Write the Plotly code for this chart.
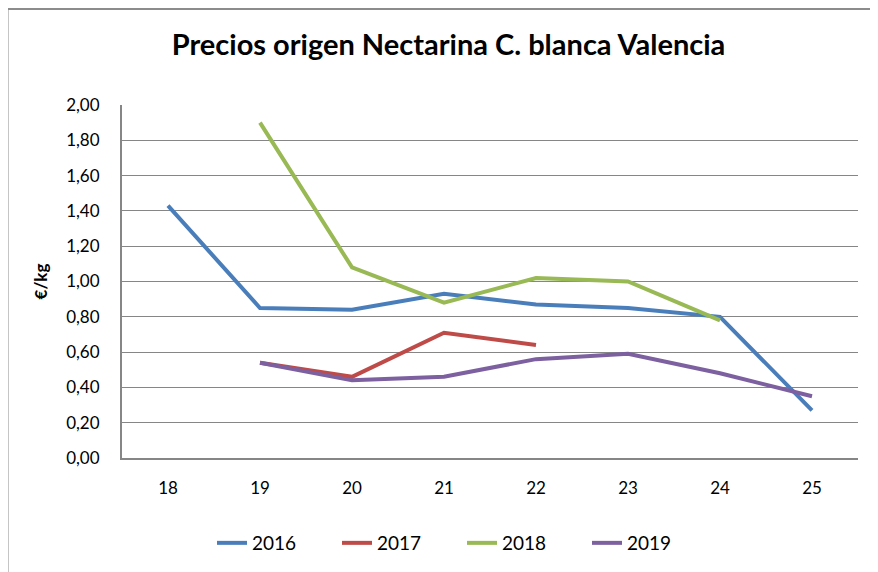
import plotly.graph_objects as go

weeks = ["18", "19", "20", "21", "22", "23", "24", "25"]
s2016 = [1.43, 0.85, 0.84, 0.93, 0.87, 0.85, 0.80, 0.27]
s2017 = [None, 0.54, 0.46, 0.71, 0.64, None, None, None]
s2018 = [None, 1.90, 1.08, 0.88, 1.02, 1.00, 0.78, None]
s2019 = [None, 0.54, 0.44, 0.46, 0.56, 0.59, 0.48, 0.35]
y_ticks = [0, 0.2, 0.4, 0.6, 0.8, 1.0, 1.2, 1.4, 1.6, 1.8, 2.0]
y_labels = ["0,00", "0,20", "0,40", "0,60", "0,80", "1,00", "1,20", "1,40", "1,60", "1,80", "2,00"]

series = [("2016", s2016, "#4a7ebb"), ("2017", s2017, "#be4b48"),
          ("2018", s2018, "#98b954"), ("2019", s2019, "#7d60a0")]

FONT = "Lato"
fig = go.Figure()
for name, vals, col in series:
    fig.add_trace(go.Scatter(x=weeks, y=vals, name=name, mode="lines",
                             line=dict(color=col, width=4), connectgaps=False))

W, H = 870, 564
L, R, T, B = 114, 20, 97, 114
pw, ph = W - L - R, H - T - B

fig.update_layout(
    width=W, height=H,
    paper_bgcolor="white", plot_bgcolor="white",
    margin=dict(l=L, r=R, t=T, b=B, autoexpand=False),
    font=dict(family=FONT, color="#000000"),
    title=dict(text="<b>Precios origen Nectarina C. blanca Valencia</b>",
               x=(448.5 - 8) / W, xanchor="center", xref="container",
               y=1 - 37 / H, yanchor="middle", yref="container",
               font=dict(size=29, family=FONT)),
    showlegend=True,
    legend=dict(orientation="h", x=(212 - 8) / W, xanchor="left", xref="container",
                y=(572 - 543) / H, yanchor="middle", yref="container",
                font=dict(size=19, family=FONT), itemwidth=30, entrywidth=80,
                traceorder="normal"),
    xaxis=dict(type="category", range=[-0.5, 7.5], showgrid=False, showline=True,
               linecolor="#868686", linewidth=2, ticks="", tickfont=dict(size=17),
               ticklabelstandoff=14),
    yaxis=dict(range=[0, 2.0], tickvals=y_ticks, ticktext=y_labels,
               showgrid=True, gridcolor="#868686", gridwidth=1.3,
               showline=True, linecolor="#868686", linewidth=2, ticks="",
               tickfont=dict(size=17), zeroline=False, ticklabelstandoff=17,
               title=dict(text="<b>€/kg</b>", font=dict(size=17), standoff=14)),
)
fig.add_shape(type="rect", xref="paper", yref="paper",
              x0=(7.5 - 122) / pw, x1=1.2, y0=-0.5, y1=(458 - 9) / ph,
              line=dict(color="#8c8c8c", width=2), fillcolor="rgba(0,0,0,0)", layer="below")
fig.write_html("out.html")
